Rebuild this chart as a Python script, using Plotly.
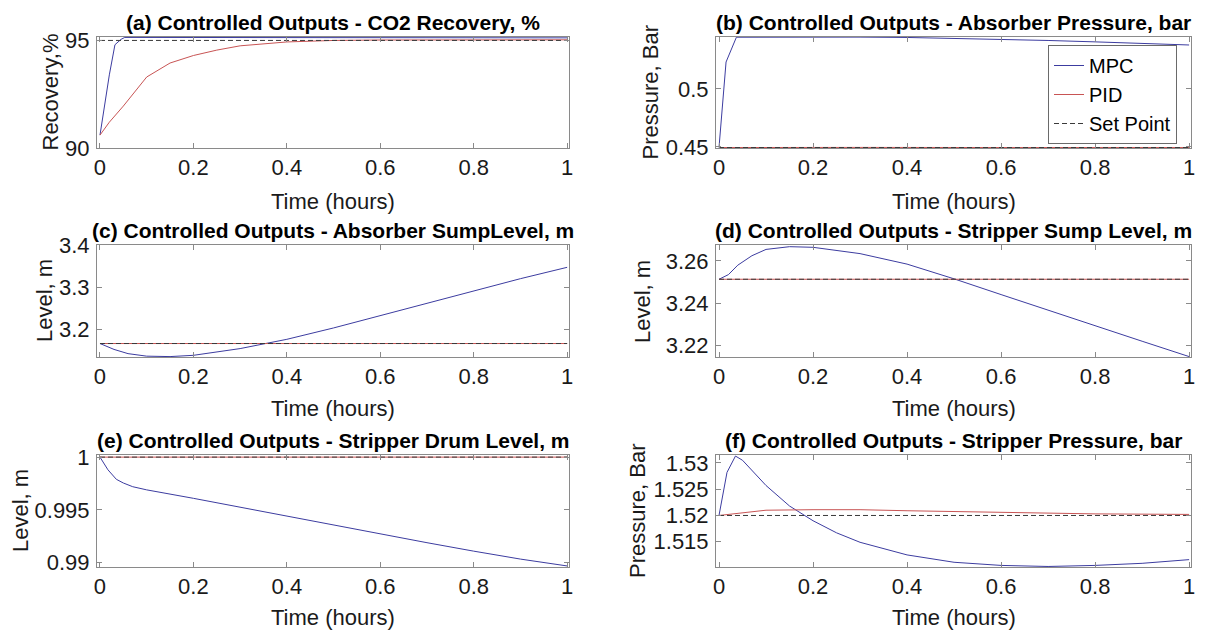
import plotly.graph_objects as go

# ---------------- data ----------------
# (a) CO2 recovery, %
a_mpc_t = [0, 0.01, 0.02, 0.032, 0.045, 0.053, 0.08, 0.15, 0.3, 0.5, 0.7, 1.0]
a_mpc_y = [90.6, 92.0, 93.4, 94.8, 95.05, 95.14, 95.14, 95.13, 95.12, 95.12, 95.12, 95.12]
a_pid_t = [0, 0.02, 0.05, 0.1, 0.15, 0.2, 0.25, 0.3, 0.4, 0.5, 0.6, 0.8, 1.0]
a_pid_y = [90.6, 91.2, 91.95, 93.3, 93.95, 94.3, 94.55, 94.75, 94.93, 95.0, 95.02, 95.03, 95.03]
a_sp = 95.0

# (b) Absorber pressure, bar
b_mpc_t = [0, 0.015, 0.037, 0.1, 0.2, 0.3, 0.4, 0.5, 0.6, 0.7, 0.8, 0.9, 1.0]
b_mpc_y = [0.4494, 0.5232, 0.5446, 0.5447, 0.5447, 0.5447, 0.5444, 0.5437, 0.5429, 0.5418, 0.5406, 0.5393, 0.5379]
b_pid_t = [0, 0.1, 0.3, 0.6, 1.0]
b_pid_y = [0.4494, 0.4496, 0.4495, 0.4494, 0.4494]
b_sp = 0.4494

# (c) Absorber sump level, m
c_mpc_t = [0, 0.03, 0.06, 0.1, 0.15, 0.2, 0.3, 0.4, 0.5, 0.6, 0.7, 0.8, 0.9, 1.0]
c_mpc_y = [3.167, 3.153, 3.143, 3.137, 3.136, 3.139, 3.155, 3.177, 3.204, 3.233, 3.262, 3.292, 3.321, 3.348]
c_pid_t = [0, 1.0]
c_pid_y = [3.167, 3.167]
c_sp = 3.167

# (d) Stripper sump level, m
d_mpc_t = [0, 0.02, 0.04, 0.07, 0.1, 0.15, 0.2, 0.3, 0.4, 0.5, 0.6, 0.7, 0.8, 0.9, 1.0]
d_mpc_y = [3.2513, 3.2535, 3.258, 3.2625, 3.2655, 3.2668, 3.2665, 3.2635, 3.2585, 3.2515,
           3.244, 3.2365, 3.229, 3.2218, 3.2145]
d_pid_t = [0, 1.0]
d_pid_y = [3.2513, 3.2513]
d_sp = 3.2513

# (e) Stripper drum level, m
e_mpc_t = [0, 0.017, 0.035, 0.05, 0.07, 0.1, 0.2, 0.3, 0.4, 0.5, 0.6, 0.7, 0.8, 0.9, 1.0]
e_mpc_y = [1.0, 0.9988, 0.9979, 0.99755, 0.9972, 0.9969, 0.9961, 0.99525, 0.9944, 0.99355,
           0.9927, 0.9919, 0.9911, 0.99035, 0.9897]
e_pid_t = [0, 1.0]
e_pid_y = [1.0, 1.0]
e_sp = 1.0

# (f) Stripper pressure, bar
f_mpc_t = [0, 0.017, 0.035, 0.05, 0.1, 0.15, 0.2, 0.25, 0.3, 0.4, 0.5, 0.6, 0.7, 0.8, 0.9, 1.0]
f_mpc_y = [1.52, 1.5282, 1.5313, 1.5305, 1.5257, 1.5218, 1.519, 1.5167, 1.5149, 1.5125,
           1.5111, 1.5105, 1.5103, 1.5105, 1.5109, 1.5116]
f_pid_t = [0, 0.05, 0.1, 0.2, 0.3, 0.4, 0.6, 0.8, 1.0]
f_pid_y = [1.52, 1.5205, 1.521, 1.5211, 1.5211, 1.5209, 1.5206, 1.5203, 1.5202]
f_sp = 1.52

titles = [
    "(a) Controlled Outputs - CO2 Recovery, %",
    "(b) Controlled Outputs - Absorber Pressure, bar",
    "(c) Controlled Outputs - Absorber SumpLevel, m",
    "(d) Controlled Outputs - Stripper Sump Level, m",
    "(e) Controlled Outputs - Stripper Drum Level, m",
    "(f) Controlled Outputs - Stripper Pressure, bar",
]
ylabels = ["Recovery,%", "Pressure, Bar", "Level, m", "Level, m", "Level, m", "Pressure, Bar"]
xlabel = "Time (hours)"
x_ticks = [0, 0.2, 0.4, 0.6, 0.8, 1]
y_ticks = [
    [90, 95],
    [0.45, 0.5],
    [3.2, 3.3, 3.4],
    [3.22, 3.24, 3.26],
    [0.99, 0.995, 1],
    [1.515, 1.52, 1.525, 1.53],
]
y_ranges = [
    [90.0, 95.16],
    [0.4490, 0.5448],
    [3.135, 3.401],
    [3.2143, 3.2676],
    [0.9896, 1.0002],
    [1.5102, 1.5315],
]
x_range = [-0.0064, 1.004]

panels = [
    (a_mpc_t, a_mpc_y, a_pid_t, a_pid_y, a_sp),
    (b_mpc_t, b_mpc_y, b_pid_t, b_pid_y, b_sp),
    (c_mpc_t, c_mpc_y, c_pid_t, c_pid_y, c_sp),
    (d_mpc_t, d_mpc_y, d_pid_t, d_pid_y, d_sp),
    (e_mpc_t, e_mpc_y, e_pid_t, e_pid_y, e_sp),
    (f_mpc_t, f_mpc_y, f_pid_t, f_pid_y, f_sp),
]

# ---------------- layout geometry (page pixels) ----------------
OFF = 8                      # default body margin of the page
W, H = 1212 - OFF, 632 - OFF


def px_x(X):
    return (X - OFF) / W


def px_y(Y):
    return 1 - (Y - OFF) / H


col_px = [(97, 569), (716, 1191)]
row_px = [(37, 148), (245, 357), (455, 567)]
ylab_x = [50, 650, 44, 642, 20, 637]
xlab_gap = [53, 51, 50]

MPC_COLOR = "#3c3ca0"
PID_COLOR = "#c85454"
SP_COLOR = "#3a3a3a"
FRAME = "#8a8a8a"
FONT = "Liberation Sans, Arial, sans-serif"
TXT = "#1a1a1a"

fig = go.Figure()
layout = {}
annotations = []
for i, (mt, my, pt, py, sp) in enumerate(panels):
    r, c = divmod(i, 2)
    n = i + 1
    xa = "x" if n == 1 else f"x{n}"
    ya = "y" if n == 1 else f"y{n}"
    show = (i == 1)
    fig.add_trace(go.Scatter(x=mt, y=my, mode="lines", name="MPC", xaxis=xa, yaxis=ya,
                             line=dict(color=MPC_COLOR, width=1), showlegend=show))
    fig.add_trace(go.Scatter(x=pt, y=py, mode="lines", name="PID", xaxis=xa, yaxis=ya,
                             line=dict(color=PID_COLOR, width=1), showlegend=show))
    fig.add_trace(go.Scatter(x=[0, 1], y=[sp, sp], mode="lines", name="Set Point", xaxis=xa, yaxis=ya,
                             line=dict(color=SP_COLOR, width=1, dash="5px,3px"), showlegend=show))
    x0, x1 = col_px[c]
    y0, y1 = row_px[r]
    xd = [px_x(x0), px_x(x1)]
    yd = [px_y(y1), px_y(y0)]
    common = dict(showline=True, linecolor=FRAME, linewidth=1, mirror="ticks",
                  ticks="inside", ticklen=5, tickcolor=FRAME, showgrid=False, zeroline=False,
                  automargin=False,
                  tickfont=dict(family=FONT, size=22, color=TXT))
    layout["xaxis" if n == 1 else f"xaxis{n}"] = dict(
        domain=xd, anchor=ya, range=x_range, tickvals=x_ticks, **common)
    layout["yaxis" if n == 1 else f"yaxis{n}"] = dict(
        domain=yd, anchor=xa, range=y_ranges[i], tickvals=y_ticks[i],
        ticklabelstandoff=2, **common)
    # panel title
    annotations.append(dict(text="<b>" + titles[i] + "</b>", xref="paper", yref="paper",
                            x=(xd[0] + xd[1]) / 2, y=yd[1], xanchor="center", yanchor="bottom",
                            yshift=1, showarrow=False,
                            font=dict(family=FONT, size=21, color="#000000")))
    # x-axis title
    annotations.append(dict(text=xlabel, xref="paper", yref="paper",
                            x=(xd[0] + xd[1]) / 2, y=px_y(y1 + xlab_gap[r]), xanchor="center",
                            yanchor="middle", showarrow=False,
                            font=dict(family=FONT, size=22, color=TXT)))
    # y-axis title
    annotations.append(dict(text=ylabels[i], xref="paper", yref="paper", textangle=-90,
                            x=px_x(ylab_x[i]), y=(yd[0] + yd[1]) / 2, xanchor="center",
                            yanchor="middle", showarrow=False,
                            font=dict(family=FONT, size=22, color=TXT)))

fig.update_layout(
    width=W, height=H,
    margin=dict(l=0, r=0, t=0, b=0, autoexpand=False),
    paper_bgcolor="white", plot_bgcolor="white",
    annotations=annotations,
    legend=dict(x=px_x(1177), xanchor="right", y=px_y(45), yanchor="top",
                xref="paper", yref="paper",
                bgcolor="white", bordercolor="#6a6a6a", borderwidth=1,
                font=dict(family=FONT, size=20, color="#000000"),
                itemwidth=30, tracegroupgap=0),
    **layout,
)

fig.write_html("out.html")
